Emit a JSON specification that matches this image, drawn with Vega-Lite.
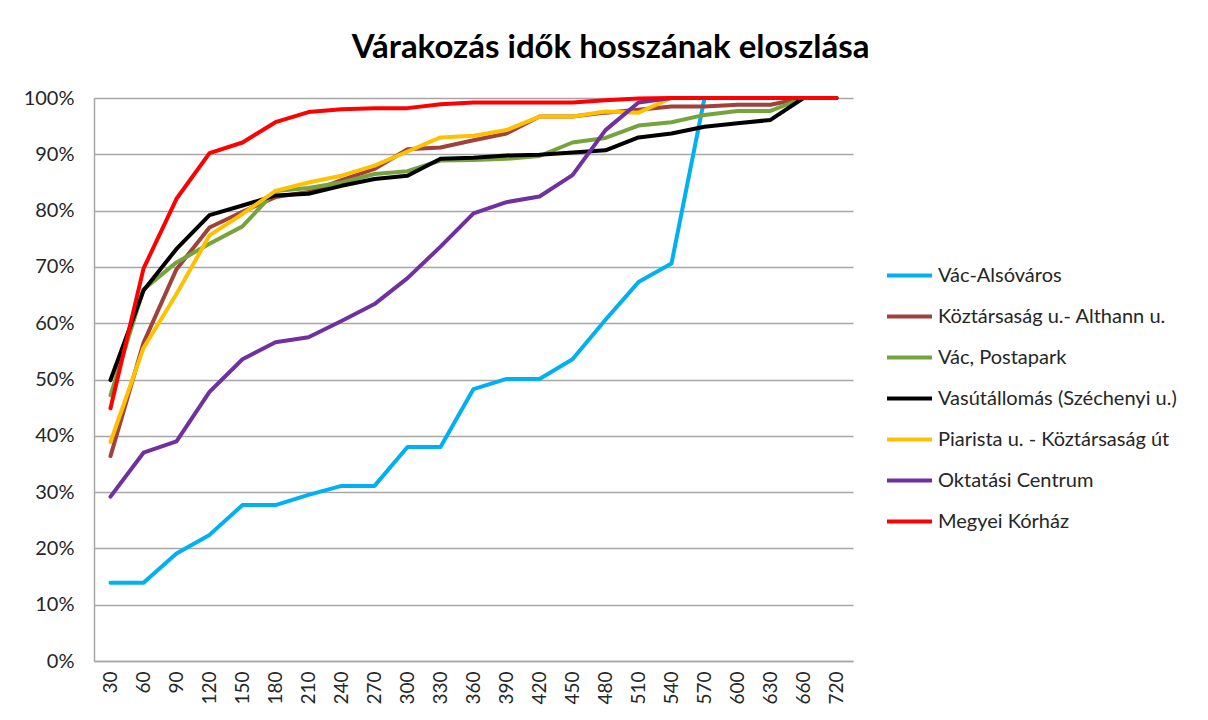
{
  "$schema": "https://vega.github.io/schema/vega-lite/v6.json",
  "width": 759,
  "height": 563,
  "autosize": {"type": "none"},
  "padding": {"left": 94, "top": 98, "right": 355, "bottom": 59},
  "background": "white",
  "title": {
    "text": "Várakozás idők hosszának eloszlása",
    "font": "Lato",
    "fontSize": 33,
    "fontWeight": "bold",
    "color": "#000000",
    "anchor": "middle",
    "frame": "group",
    "baseline": "alphabetic",
    "offset": 9,
    "dx": 137,
    "dy": 12
  },
  "config": {
    "view": {"stroke": null},
    "font": "Lato"
  },
  "data": {
    "values": [
      {"t": 30, "s": "Vác-Alsóváros", "v": 0.139},
      {"t": 60, "s": "Vác-Alsóváros", "v": 0.139},
      {"t": 90, "s": "Vác-Alsóváros", "v": 0.191},
      {"t": 120, "s": "Vác-Alsóváros", "v": 0.224},
      {"t": 150, "s": "Vác-Alsóváros", "v": 0.277},
      {"t": 180, "s": "Vác-Alsóváros", "v": 0.277},
      {"t": 210, "s": "Vác-Alsóváros", "v": 0.295},
      {"t": 240, "s": "Vác-Alsóváros", "v": 0.311},
      {"t": 270, "s": "Vác-Alsóváros", "v": 0.311},
      {"t": 300, "s": "Vác-Alsóváros", "v": 0.380},
      {"t": 330, "s": "Vác-Alsóváros", "v": 0.380},
      {"t": 360, "s": "Vác-Alsóváros", "v": 0.483},
      {"t": 390, "s": "Vác-Alsóváros", "v": 0.501},
      {"t": 420, "s": "Vác-Alsóváros", "v": 0.501},
      {"t": 450, "s": "Vác-Alsóváros", "v": 0.536},
      {"t": 480, "s": "Vác-Alsóváros", "v": 0.606},
      {"t": 510, "s": "Vác-Alsóváros", "v": 0.673},
      {"t": 540, "s": "Vác-Alsóváros", "v": 0.706},
      {"t": 570, "s": "Vác-Alsóváros", "v": 1.0},
      {"t": 600, "s": "Vác-Alsóváros", "v": 1.0},
      {"t": 630, "s": "Vác-Alsóváros", "v": 1.0},
      {"t": 660, "s": "Vác-Alsóváros", "v": 1.0},
      {"t": 720, "s": "Vác-Alsóváros", "v": 1.0},

      {"t": 30, "s": "Köztársaság u.- Althann u.", "v": 0.364},
      {"t": 60, "s": "Köztársaság u.- Althann u.", "v": 0.565},
      {"t": 90, "s": "Köztársaság u.- Althann u.", "v": 0.696},
      {"t": 120, "s": "Köztársaság u.- Althann u.", "v": 0.770},
      {"t": 150, "s": "Köztársaság u.- Althann u.", "v": 0.798},
      {"t": 180, "s": "Köztársaság u.- Althann u.", "v": 0.824},
      {"t": 210, "s": "Köztársaság u.- Althann u.", "v": 0.833},
      {"t": 240, "s": "Köztársaság u.- Althann u.", "v": 0.854},
      {"t": 270, "s": "Köztársaság u.- Althann u.", "v": 0.874},
      {"t": 300, "s": "Köztársaság u.- Althann u.", "v": 0.909},
      {"t": 330, "s": "Köztársaság u.- Althann u.", "v": 0.912},
      {"t": 360, "s": "Köztársaság u.- Althann u.", "v": 0.925},
      {"t": 390, "s": "Köztársaság u.- Althann u.", "v": 0.937},
      {"t": 420, "s": "Köztársaság u.- Althann u.", "v": 0.967},
      {"t": 450, "s": "Köztársaság u.- Althann u.", "v": 0.967},
      {"t": 480, "s": "Köztársaság u.- Althann u.", "v": 0.974},
      {"t": 510, "s": "Köztársaság u.- Althann u.", "v": 0.979},
      {"t": 540, "s": "Köztársaság u.- Althann u.", "v": 0.985},
      {"t": 570, "s": "Köztársaság u.- Althann u.", "v": 0.985},
      {"t": 600, "s": "Köztársaság u.- Althann u.", "v": 0.988},
      {"t": 630, "s": "Köztársaság u.- Althann u.", "v": 0.988},
      {"t": 660, "s": "Köztársaság u.- Althann u.", "v": 1.0},
      {"t": 720, "s": "Köztársaság u.- Althann u.", "v": 1.0},

      {"t": 30, "s": "Vác, Postapark", "v": 0.472},
      {"t": 60, "s": "Vác, Postapark", "v": 0.660},
      {"t": 90, "s": "Vác, Postapark", "v": 0.708},
      {"t": 120, "s": "Vác, Postapark", "v": 0.741},
      {"t": 150, "s": "Vác, Postapark", "v": 0.772},
      {"t": 180, "s": "Vác, Postapark", "v": 0.835},
      {"t": 210, "s": "Vác, Postapark", "v": 0.840},
      {"t": 240, "s": "Vác, Postapark", "v": 0.850},
      {"t": 270, "s": "Vác, Postapark", "v": 0.865},
      {"t": 300, "s": "Vác, Postapark", "v": 0.870},
      {"t": 330, "s": "Vác, Postapark", "v": 0.889},
      {"t": 360, "s": "Vác, Postapark", "v": 0.890},
      {"t": 390, "s": "Vác, Postapark", "v": 0.892},
      {"t": 420, "s": "Vác, Postapark", "v": 0.897},
      {"t": 450, "s": "Vác, Postapark", "v": 0.921},
      {"t": 480, "s": "Vác, Postapark", "v": 0.929},
      {"t": 510, "s": "Vác, Postapark", "v": 0.951},
      {"t": 540, "s": "Vác, Postapark", "v": 0.957},
      {"t": 570, "s": "Vác, Postapark", "v": 0.970},
      {"t": 600, "s": "Vác, Postapark", "v": 0.977},
      {"t": 630, "s": "Vác, Postapark", "v": 0.977},
      {"t": 660, "s": "Vác, Postapark", "v": 1.0},
      {"t": 720, "s": "Vác, Postapark", "v": 1.0},

      {"t": 30, "s": "Vasútállomás (Széchenyi u.)", "v": 0.499},
      {"t": 60, "s": "Vasútállomás (Széchenyi u.)", "v": 0.658},
      {"t": 90, "s": "Vasútállomás (Széchenyi u.)", "v": 0.732},
      {"t": 120, "s": "Vasútállomás (Széchenyi u.)", "v": 0.792},
      {"t": 150, "s": "Vasútállomás (Széchenyi u.)", "v": 0.809},
      {"t": 180, "s": "Vasútállomás (Széchenyi u.)", "v": 0.827},
      {"t": 210, "s": "Vasútállomás (Széchenyi u.)", "v": 0.830},
      {"t": 240, "s": "Vasútállomás (Széchenyi u.)", "v": 0.844},
      {"t": 270, "s": "Vasútállomás (Széchenyi u.)", "v": 0.856},
      {"t": 300, "s": "Vasútállomás (Széchenyi u.)", "v": 0.862},
      {"t": 330, "s": "Vasútállomás (Széchenyi u.)", "v": 0.892},
      {"t": 360, "s": "Vasútállomás (Széchenyi u.)", "v": 0.894},
      {"t": 390, "s": "Vasútállomás (Széchenyi u.)", "v": 0.898},
      {"t": 420, "s": "Vasútállomás (Széchenyi u.)", "v": 0.899},
      {"t": 450, "s": "Vasútállomás (Széchenyi u.)", "v": 0.903},
      {"t": 480, "s": "Vasútállomás (Széchenyi u.)", "v": 0.907},
      {"t": 510, "s": "Vasútállomás (Széchenyi u.)", "v": 0.930},
      {"t": 540, "s": "Vasútállomás (Széchenyi u.)", "v": 0.937},
      {"t": 570, "s": "Vasútállomás (Széchenyi u.)", "v": 0.949},
      {"t": 600, "s": "Vasútállomás (Széchenyi u.)", "v": 0.955},
      {"t": 630, "s": "Vasútállomás (Széchenyi u.)", "v": 0.961},
      {"t": 660, "s": "Vasútállomás (Széchenyi u.)", "v": 1.0},
      {"t": 720, "s": "Vasútállomás (Széchenyi u.)", "v": 1.0},

      {"t": 30, "s": "Piarista u. - Köztársaság út", "v": 0.389},
      {"t": 60, "s": "Piarista u. - Köztársaság út", "v": 0.556},
      {"t": 90, "s": "Piarista u. - Köztársaság út", "v": 0.652},
      {"t": 120, "s": "Piarista u. - Köztársaság út", "v": 0.756},
      {"t": 150, "s": "Piarista u. - Köztársaság út", "v": 0.794},
      {"t": 180, "s": "Piarista u. - Köztársaság út", "v": 0.835},
      {"t": 210, "s": "Piarista u. - Köztársaság út", "v": 0.850},
      {"t": 240, "s": "Piarista u. - Köztársaság út", "v": 0.862},
      {"t": 270, "s": "Piarista u. - Köztársaság út", "v": 0.880},
      {"t": 300, "s": "Piarista u. - Köztársaság út", "v": 0.905},
      {"t": 330, "s": "Piarista u. - Köztársaság út", "v": 0.930},
      {"t": 360, "s": "Piarista u. - Köztársaság út", "v": 0.933},
      {"t": 390, "s": "Piarista u. - Köztársaság út", "v": 0.943},
      {"t": 420, "s": "Piarista u. - Köztársaság út", "v": 0.967},
      {"t": 450, "s": "Piarista u. - Köztársaság út", "v": 0.967},
      {"t": 480, "s": "Piarista u. - Köztársaság út", "v": 0.976},
      {"t": 510, "s": "Piarista u. - Köztársaság út", "v": 0.974},
      {"t": 540, "s": "Piarista u. - Köztársaság út", "v": 1.0},
      {"t": 570, "s": "Piarista u. - Köztársaság út", "v": 1.0},
      {"t": 600, "s": "Piarista u. - Köztársaság út", "v": 1.0},
      {"t": 630, "s": "Piarista u. - Köztársaság út", "v": 1.0},
      {"t": 660, "s": "Piarista u. - Köztársaság út", "v": 1.0},
      {"t": 720, "s": "Piarista u. - Köztársaság út", "v": 1.0},

      {"t": 30, "s": "Oktatási Centrum", "v": 0.292},
      {"t": 60, "s": "Oktatási Centrum", "v": 0.370},
      {"t": 90, "s": "Oktatási Centrum", "v": 0.390},
      {"t": 120, "s": "Oktatási Centrum", "v": 0.478},
      {"t": 150, "s": "Oktatási Centrum", "v": 0.536},
      {"t": 180, "s": "Oktatási Centrum", "v": 0.566},
      {"t": 210, "s": "Oktatási Centrum", "v": 0.575},
      {"t": 240, "s": "Oktatási Centrum", "v": 0.604},
      {"t": 270, "s": "Oktatási Centrum", "v": 0.634},
      {"t": 300, "s": "Oktatási Centrum", "v": 0.680},
      {"t": 330, "s": "Oktatási Centrum", "v": 0.736},
      {"t": 360, "s": "Oktatási Centrum", "v": 0.795},
      {"t": 390, "s": "Oktatási Centrum", "v": 0.815},
      {"t": 420, "s": "Oktatási Centrum", "v": 0.825},
      {"t": 450, "s": "Oktatási Centrum", "v": 0.863},
      {"t": 480, "s": "Oktatási Centrum", "v": 0.943},
      {"t": 510, "s": "Oktatási Centrum", "v": 0.992},
      {"t": 540, "s": "Oktatási Centrum", "v": 1.0},
      {"t": 570, "s": "Oktatási Centrum", "v": 1.0},
      {"t": 600, "s": "Oktatási Centrum", "v": 1.0},
      {"t": 630, "s": "Oktatási Centrum", "v": 1.0},
      {"t": 660, "s": "Oktatási Centrum", "v": 1.0},
      {"t": 720, "s": "Oktatási Centrum", "v": 1.0},

      {"t": 30, "s": "Megyei Kórház", "v": 0.449},
      {"t": 60, "s": "Megyei Kórház", "v": 0.697},
      {"t": 90, "s": "Megyei Kórház", "v": 0.821},
      {"t": 120, "s": "Megyei Kórház", "v": 0.902},
      {"t": 150, "s": "Megyei Kórház", "v": 0.921},
      {"t": 180, "s": "Megyei Kórház", "v": 0.957},
      {"t": 210, "s": "Megyei Kórház", "v": 0.975},
      {"t": 240, "s": "Megyei Kórház", "v": 0.980},
      {"t": 270, "s": "Megyei Kórház", "v": 0.982},
      {"t": 300, "s": "Megyei Kórház", "v": 0.982},
      {"t": 330, "s": "Megyei Kórház", "v": 0.989},
      {"t": 360, "s": "Megyei Kórház", "v": 0.992},
      {"t": 390, "s": "Megyei Kórház", "v": 0.992},
      {"t": 420, "s": "Megyei Kórház", "v": 0.992},
      {"t": 450, "s": "Megyei Kórház", "v": 0.992},
      {"t": 480, "s": "Megyei Kórház", "v": 0.996},
      {"t": 510, "s": "Megyei Kórház", "v": 0.999},
      {"t": 540, "s": "Megyei Kórház", "v": 1.0},
      {"t": 570, "s": "Megyei Kórház", "v": 1.0},
      {"t": 600, "s": "Megyei Kórház", "v": 1.0},
      {"t": 630, "s": "Megyei Kórház", "v": 1.0},
      {"t": 660, "s": "Megyei Kórház", "v": 1.0},
      {"t": 720, "s": "Megyei Kórház", "v": 1.0}
    ]
  },
  "mark": {"type": "line", "strokeWidth": 4, "strokeJoin": "round", "strokeCap": "round"},
  "encoding": {
    "x": {
      "field": "t",
      "type": "ordinal",
      "scale": {"type": "point", "padding": 0.5},
      "axis": {
        "title": null,
        "labelAngle": -90,
        "labelFontSize": 19,
        "labelColor": "#262626",
        "labelPadding": 10,
        "ticks": false,
        "domainColor": "#a6a6a6",
        "domainWidth": 1.5
      }
    },
    "y": {
      "field": "v",
      "type": "quantitative",
      "scale": {"domain": [0, 1], "nice": false},
      "axis": {
        "title": null,
        "format": ".0%",
        "values": [0, 0.1, 0.2, 0.3, 0.4, 0.5, 0.6, 0.7, 0.8, 0.9, 1.0],
        "labelFontSize": 20,
        "labelColor": "#262626",
        "labelPadding": 20,
        "ticks": false,
        "domainColor": "#a6a6a6",
        "domainWidth": 1.5,
        "gridColor": "#a6a6a6",
        "gridWidth": 1.5
      }
    },
    "color": {
      "field": "s",
      "type": "nominal",
      "sort": null,
      "scale": {
        "domain": ["Vác-Alsóváros", "Köztársaság u.- Althann u.", "Vác, Postapark", "Vasútállomás (Széchenyi u.)", "Piarista u. - Köztársaság út", "Oktatási Centrum", "Megyei Kórház"],
        "range": ["#00B0F0", "#A0413C", "#77A33E", "#000000", "#FFC000", "#7030A0", "#FF0000"]
      },
      "legend": {
        "title": null,
        "orient": "none",
        "legendX": 791,
        "legendY": 153,
        "symbolType": "stroke",
        "symbolSize": 2025,
        "symbolStrokeWidth": 4,
        "labelFontSize": 20,
        "labelColor": "#262626",
        "labelOffset": 4,
        "rowPadding": 6,
        "labelLimit": 400
      }
    },
    "order": {"field": "t", "type": "quantitative"}
  }
}
